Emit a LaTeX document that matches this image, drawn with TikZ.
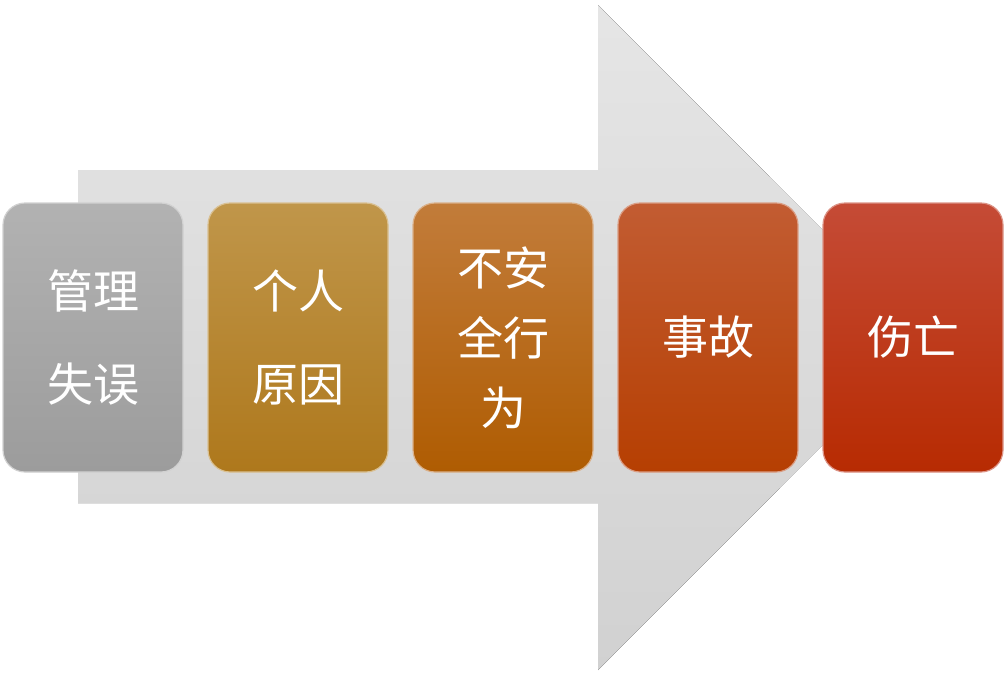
\documentclass[tikz,border=0pt]{standalone}
\usepackage{fontspec}
\newfontfamily\cjk{Noto Sans CJK SC}
\usepackage{tikz}
\usetikzlibrary{positioning}

\definecolor{graytop}{HTML}{B2B2B2}
\definecolor{graybot}{HTML}{9C9C9C}
\definecolor{goldtop}{HTML}{C0964A}
\definecolor{goldbot}{HTML}{AE781C}
\definecolor{ambertop}{HTML}{C27C3A}
\definecolor{amberbot}{HTML}{AF5C02}
\definecolor{rusttop}{HTML}{C25C32}
\definecolor{rustbot}{HTML}{B63F02}
\definecolor{redtop}{HTML}{C54B36}
\definecolor{redbot}{HTML}{B72B02}

\begin{document}
\begin{tikzpicture}[x=1pt,y=-1pt]
    \tikzstyle{stage}=[rectangle, rounded corners=22pt, minimum width=180pt, minimum height=269pt,
      inner sep=0pt, outer sep=0pt, align=center, text=white, line width=1.2pt,
      font=\cjk\fontsize{46}{70}\selectfont, node distance=25pt]
    \tikzstyle{flow}=[top color=black!10, bottom color=black!18]
    \useasboundingbox (0,0) rectangle (1008,675);

      % big arrow behind the stages
      \coordinate (tail top) at (78,170);
      \coordinate (tail bottom) at (78,503);
      \coordinate (tip) at (930,337.5);
      \fill[flow] (tail top) -- (598,170) -- (598,5) -- (tip) -- (598,670) -- (598,503) -- (tail bottom) -- cycle;

      \node[stage, draw=graytop!60!white, top color=graytop, bottom color=graybot] (mgmt) at (93,337.5) {管理\\[23pt]失误};
      \node[stage, draw=goldtop!60!white, top color=goldtop, bottom color=goldbot] (person) [right=of mgmt] {个人\\[23pt]原因};
      \node[stage, draw=ambertop!60!white, top color=ambertop, bottom color=amberbot] (unsafe) [right=of person] {不安\\全行\\为};
      \node[stage, draw=rusttop!60!white, top color=rusttop, bottom color=rustbot] (accident) [right=of unsafe] {事故};
      \node[stage, draw=redtop!60!white, top color=redtop, bottom color=redbot] (death) [right=of accident] {伤亡};
    \end{tikzpicture}
\end{document}
